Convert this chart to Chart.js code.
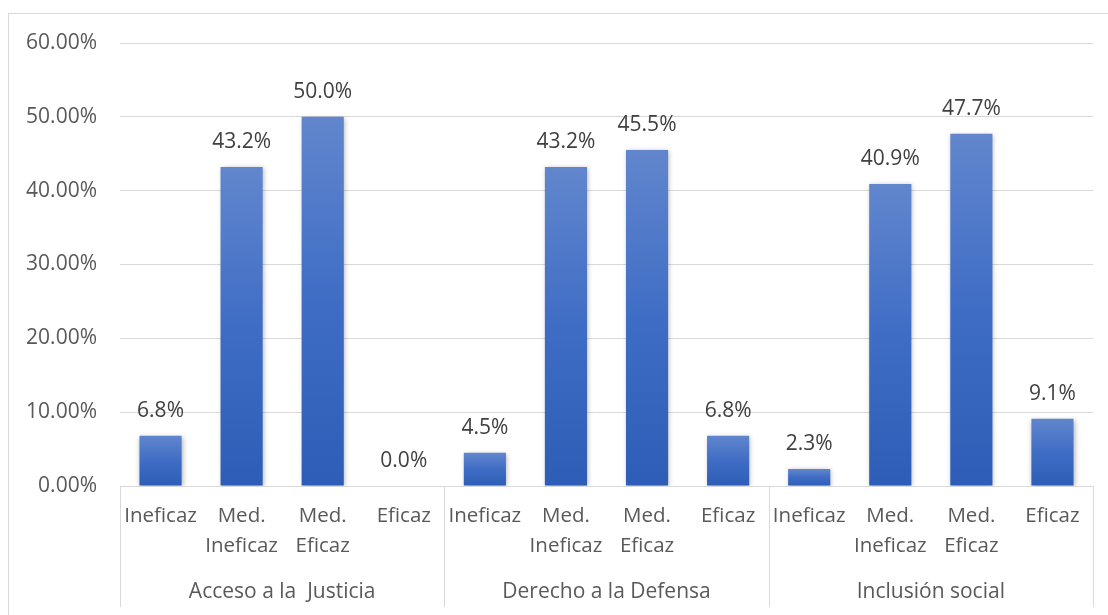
<!DOCTYPE html>
<html>
<head>
<meta charset="utf-8">
<script src="https://cdn.jsdelivr.net/npm/chart.js@4/dist/chart.umd.min.js"></script>
<style>
  html, body { margin: 0; padding: 0; background: #fff; overflow: hidden; }
  .frame {
    position: absolute; left: 8px; top: 13px;
    width: 1200px; height: 700px;
    border: 1px solid #d9d9d9;
  }
  .wrap { position: absolute; left: 0; top: 0; width: 1108px; height: 615px; }
</style>
</head>
<body>
<div class="frame"></div>
<div class="wrap"><canvas id="chart"></canvas></div>
<script>
const groups = ['Acceso a la  Justicia', 'Derecho a la Defensa', 'Inclusión social'];
const levels = [['Ineficaz'], ['Med.', 'Ineficaz'], ['Med.', 'Eficaz'], ['Eficaz']];
const values = [6.8, 43.2, 50.0, 0.0, 4.5, 43.2, 45.5, 6.8, 2.3, 40.9, 47.7, 9.1];
const yMax = 60;
const yStep = 10;

const labels = groups.flatMap(() => levels);
const FONT = '"Open Sans", sans-serif';

const barFill = (context) => {
  const chart = context.chart;
  const yScale = chart.scales.y;
  if (!yScale || context.dataIndex === undefined) return '#4472c4';
  const top = yScale.getPixelForValue(values[context.dataIndex]);
  const base = yScale.getPixelForValue(0);
  if (!isFinite(top) || !isFinite(base) || base - top < 1) return '#4472c4';
  const g = chart.ctx.createLinearGradient(0, top, 0, base);
  g.addColorStop(0, '#6186cd');
  g.addColorStop(0.5, '#3f6dc5');
  g.addColorStop(1, '#2d5db6');
  return g;
};

const barShadow = {
  id: 'barShadow',
  beforeDatasetsDraw(chart) {
    const ctx = chart.ctx;
    ctx.save();
    ctx.shadowColor = 'rgba(0, 0, 0, 0.3)';
    ctx.shadowBlur = 5;
    ctx.shadowOffsetX = 1;
    ctx.shadowOffsetY = 1;
  },
  afterDatasetsDraw(chart) {
    chart.ctx.restore();
  }
};

const barLabels = {
  id: 'barLabels',
  afterDatasetsDraw(chart) {
    const ctx = chart.ctx;
    const meta = chart.getDatasetMeta(0);
    ctx.save();
    ctx.font = '21px ' + FONT;
    ctx.fillStyle = '#404040';
    ctx.textAlign = 'center';
    ctx.textBaseline = 'middle';
    meta.data.forEach((bar, i) => {
      ctx.fillText(values[i].toFixed(1) + '%', bar.x, bar.y - 25);
    });
    ctx.restore();
  }
};

const groupAxis = {
  id: 'groupAxis',
  afterDraw(chart) {
    const ctx = chart.ctx;
    const x = chart.scales.x;
    const pitch = x.getPixelForValue(1) - x.getPixelForValue(0);
    const per = levels.length;
    ctx.save();
    ctx.strokeStyle = '#d9d9d9';
    ctx.lineWidth = 1;
    for (let g = 0; g <= groups.length; g++) {
      const bx = Math.round(x.getPixelForValue(g * per) - pitch / 2) + 0.5;
      ctx.beginPath();
      ctx.moveTo(bx, x.top);
      ctx.lineTo(bx, chart.height - 8);
      ctx.stroke();
    }
    ctx.font = '21px ' + FONT;
    ctx.fillStyle = '#595959';
    ctx.textAlign = 'center';
    ctx.textBaseline = 'middle';
    groups.forEach((name, g) => {
      const cx = (x.getPixelForValue(g * per) + x.getPixelForValue(g * per + per - 1)) / 2;
      ctx.fillText(name, cx, 592);
    });
    ctx.restore();
  }
};

new Chart(document.getElementById('chart'), {
  type: 'bar',
  data: {
    labels: labels,
    datasets: [{
      data: values,
      backgroundColor: barFill,
      borderWidth: 0,
      categoryPercentage: 1,
      barPercentage: 0.52
    }]
  },
  options: {
    responsive: true,
    maintainAspectRatio: false,
    animation: false,
    layout: { padding: { top: 43, right: 15, bottom: 0, left: 0 } },
    plugins: {
      legend: { display: false },
      tooltip: { enabled: false }
    },
    scales: {
      x: {
        grid: { display: false, drawTicks: false },
        border: { display: true, color: '#d9d9d9', width: 1 },
        ticks: {
          color: '#595959',
          font: { family: FONT, size: 20.5, lineHeight: 1.42 },
          padding: 16,
          maxRotation: 0,
          autoSkip: false
        },
        afterFit(scale) { scale.height = 129; }
      },
      y: {
        min: 0,
        max: yMax,
        grid: { color: '#d9d9d9', drawTicks: false },
        border: { display: false },
        ticks: {
          stepSize: yStep,
          color: '#595959',
          font: { family: FONT, size: 21 },
          padding: 23,
          callback: (v) => v.toFixed(2) + '%'
        },
        afterFit(scale) { scale.width = 120; }
      }
    }
  },
  plugins: [barShadow, barLabels, groupAxis]
});
</script>
</body>
</html>
